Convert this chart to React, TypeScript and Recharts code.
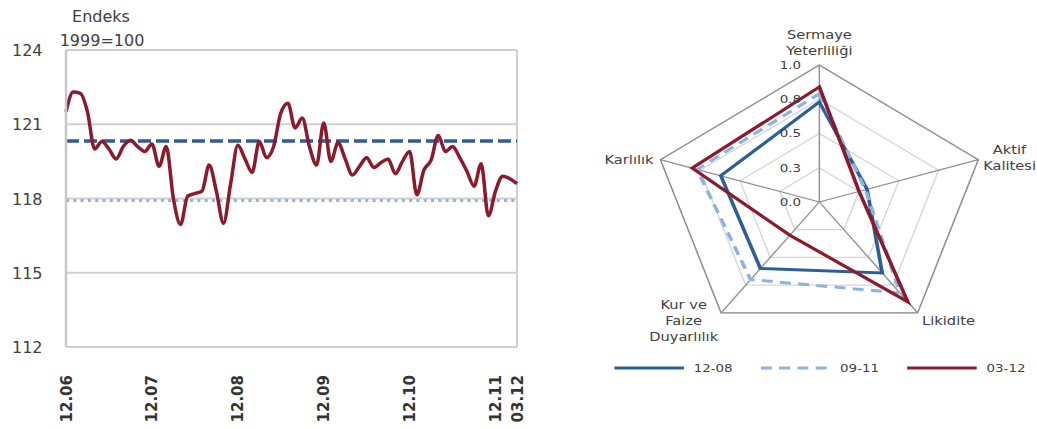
import {
  LineChart,
  Line,
  XAxis,
  YAxis,
  CartesianGrid,
  ReferenceLine,
  RadarChart,
  Radar,
  PolarGrid,
  PolarAngleAxis,
  PolarRadiusAxis,
  Legend,
} from "recharts"

const FONT = "DejaVu Sans"

// left panel: index (1999=100), monthly 12.06 .. 03.12
const indexValues = [
  121.5, 122.3, 122.25, 121.5, 120.0, 120.3, 120.0, 119.6, 120.1, 120.35, 120.1, 119.9,
  120.2, 119.3, 120.1, 118.0, 116.95, 118.1, 118.2, 118.3, 119.35, 118.3, 117.0, 118.6,
  120.15, 119.6, 119.05, 120.3, 119.65, 120.1, 121.45, 121.85, 120.85, 121.25, 120.1, 119.35,
  121.05, 119.5, 120.25, 119.6, 118.95, 119.3, 119.65, 119.25, 119.45, 119.6, 119.0, 119.5,
  119.9, 118.15, 119.15, 119.55, 120.55, 119.9, 120.1, 119.65, 119.1, 118.5, 119.4, 117.3,
  118.3, 118.9, 118.8, 118.6,
]
const xTickIndex = [0, 12, 24, 36, 48, 60, 63]
const xTickLabels = ["12.06", "12.07", "12.08", "12.09", "12.10", "12.11", "03.12"]
const yTicks = [112, 115, 118, 121, 124]
const dashedLevel = 120.32
const dottedLevel = 117.92

// right panel: radar
const radarAxes = ["Sermaye Yeterliliği", "Aktif Kalitesi", "Likidite", "Kur ve Faize Duyarlılık", "Karlılık"]
const radarAxisLines = [["Sermaye", "Yeterliliği"], ["Aktif", "Kalitesi"], ["Likidite"], ["Kur ve", "Faize", "Duyarlılık"], ["Karlılık"]]
const values1208 = [0.73, 0.3, 0.64, 0.6, 0.62]
const values0911 = [0.79, 0.29, 0.82, 0.7, 0.77]
const values0312 = [0.84, 0.25, 0.9, 0.3, 0.8]
const radiusTicks = [0, 0.25, 0.5, 0.75, 1]
const radiusTickLabels = ["0.0", "0.3", "0.5", "0.8", "1.0"]

const series = [
  { key: "a", name: "12-08", color: "#2C5F98", dash: undefined as string | undefined },
  { key: "b", name: "09-11", color: "#8DB3E2", dash: "9 6" },
  { key: "c", name: "03-12", color: "#8B1A2B", dash: undefined as string | undefined },
]

const lineData = indexValues.map((v, i) => ({ i, v }))
const radarData = radarAxes.map((axis, i) => ({
  axis,
  a: values1208[i],
  b: values0911[i],
  c: values0312[i],
}))

const R = 137
const STRETCH = 1.22

const XTick = (props: any) => {
  const { x, y, payload } = props
  const k = xTickIndex.indexOf(payload.value)
  return (
    <text
      transform={`translate(${x + 5.5},${y + 20}) rotate(-90)`}
      textAnchor="end"
      fontSize={15}
      fontWeight="bold"
      fontFamily={FONT}
      fill="#333"
    >
      {xTickLabels[k]}
    </text>
  )
}

const YTick = (props: any) => {
  const { y, payload } = props
  return (
    <text x={12} y={y} dy={6} textAnchor="start" fontSize={16} fontFamily={FONT} fill="#404040">
      {payload.value}
    </text>
  )
}

// label placement around the pentagon vertices
const angleTickOffsets = [
  { dx: 0, dy: -18, anchor: "middle" },
  { dx: 18, dy: -3, anchor: "middle" },
  { dx: -1, dy: 6, anchor: "start" },
  { dx: -26, dy: -10, anchor: "middle" },
  { dx: 2, dy: 7, anchor: "end" },
]

const AngleTick = (props: any) => {
  const { x, y, index } = props
  const o = angleTickOffsets[index]
  const lines = radarAxisLines[index]
  return (
    <text x={x + o.dx} y={y + o.dy} textAnchor={o.anchor} fontSize={12} fontFamily={FONT} fill="#404040">
      {lines.map((l, j) => (
        <tspan key={j} x={x + o.dx} dy={j === 0 ? 0 : 16}>
          {l}
        </tspan>
      ))}
    </text>
  )
}

const RadiusTick = (props: any) => {
  const { x, y, payload } = props
  const k = radiusTicks.indexOf(payload.value)
  return (
    <text x={x - 15} y={y} dy={4} textAnchor="end" fontSize={11} fontFamily={FONT} fill="#404040">
      {radiusTickLabels[k]}
    </text>
  )
}

const renderLegend = () => (
  <svg width={370} height={22}>
    {series.map((s, i) => {
      const x0 = 20 + i * 120
      return (
        <g key={s.key}>
          <line x1={x0} x2={x0 + 57} y1={11} y2={11} stroke={s.color} strokeWidth={3} strokeDasharray={s.dash} />
          <text x={x0 + 65} y={11} dy={4} fontSize={11} fontFamily={FONT} fill="#404040">
            {s.name}
          </text>
        </g>
      )
    })}
  </svg>
)

export default function App() {
  return (
    <div
      style={{
        position: "absolute",
        left: 0,
        top: 0,
        width: 1037,
        height: 429,
        overflow: "hidden",
        background: "#fff",
        fontFamily: FONT,
      }}
    >
      <svg width={200} height={50} style={{ position: "absolute", left: 0, top: 0 }}>
        <text x={101} y={22} textAnchor="middle" fontSize={16} fontFamily={FONT} fill="#404040">
          Endeks
        </text>
        <text x={102} y={46} textAnchor="middle" fontSize={16} fontFamily={FONT} fill="#404040">
          1999=100
        </text>
      </svg>

      <div style={{ position: "absolute", left: 0, top: 0 }}>
        <LineChart width={530} height={429} data={lineData} margin={{ top: 50, right: 13, bottom: 0, left: 0 }}>
          <CartesianGrid vertical={false} stroke="#d0d0d0" strokeWidth={2} />
          <XAxis
            dataKey="i"
            type="number"
            domain={[0, indexValues.length - 1]}
            ticks={xTickIndex}
            interval={0}
            height={82}
            tickLine={false}
            tickSize={6}
            tickMargin={2}
            axisLine={{ stroke: "#d0d0d0", strokeWidth: 2 }}
            tick={<XTick />}
          />
          <YAxis
            domain={[112, 124]}
            ticks={yTicks}
            width={66}
            tickLine={false}
            axisLine={{ stroke: "#c8c8c8", strokeWidth: 2.5 }}
            tick={<YTick />}
          />
          <ReferenceLine x={indexValues.length - 1} stroke="#d0d0d0" strokeWidth={2} />
          <ReferenceLine y={dashedLevel} stroke="#2E5C94" strokeWidth={3.5} strokeDasharray="13 5" />
          <ReferenceLine y={dottedLevel} stroke="#8DB3E2" strokeWidth={3} strokeDasharray="3 4.3" />
          <Line
            type="monotone"
            dataKey="v"
            stroke="#8B1A2B"
            strokeWidth={3.5}
            dot={false}
            isAnimationActive={false}
          />
        </LineChart>
      </div>

      <div
        style={{
          position: "absolute",
          left: 590,
          top: 0,
          transform: `scaleX(${STRETCH})`,
          transformOrigin: "left top",
        }}
      >
        <RadarChart width={370} height={429} data={radarData} cx={188} cy={202} outerRadius={R}>
          <PolarGrid
            gridType="polygon"
            radialLines={false}
            polarRadius={radiusTicks.map((t) => t * R)}
            stroke="#d6d6d6"
            strokeWidth={1.2}
          />
          <PolarGrid gridType="polygon" polarRadius={[R]} stroke="#8f8f8f" strokeWidth={1.2} />
          <PolarAngleAxis dataKey="axis" tick={<AngleTick />} tickLine={false} axisLine={false} />
          <PolarRadiusAxis
            angle={90}
            type="number"
            domain={[0, 1]}
            ticks={radiusTicks}
            tickCount={5}
            axisLine={false}
            tickLine={false}
            tick={<RadiusTick />}
          />
          {series.map((s) => (
            <Radar
              key={s.key}
              name={s.name}
              dataKey={s.key}
              stroke={s.color}
              strokeWidth={3}
              strokeDasharray={s.dash}
              fill="none"
              fillOpacity={0}
              dot={false}
              isAnimationActive={false}
            />
          ))}
          <Legend content={renderLegend} wrapperStyle={{ top: 357, left: 0, width: 370, height: 22 }} />
        </RadarChart>
      </div>
    </div>
  )
}
